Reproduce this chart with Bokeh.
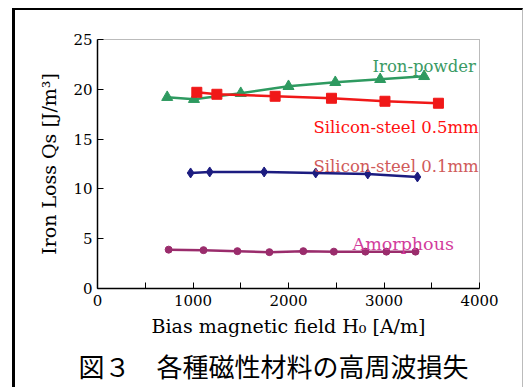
from bokeh.plotting import figure
from bokeh.models import Range1d, FixedTicker, Label, Title
from bokeh.embed import file_html
from bokeh.resources import INLINE

# ---- data ----
iron_x = [730, 1010, 1500, 2000, 2490, 2960, 3420]
iron_y = [19.2, 19.0, 19.6, 20.3, 20.7, 21.0, 21.3]
si05_x = [1040, 1250, 1860, 2450, 3010, 3570]
si05_y = [19.7, 19.5, 19.3, 19.1, 18.8, 18.6]
si01_x = [975, 1175, 1745, 2285, 2830, 3350]
si01_y = [11.6, 11.7, 11.7, 11.6, 11.5, 11.2]
amor_x = [745, 1110, 1465, 1800, 2155, 2475, 2805, 3025, 3330]
amor_y = [3.9, 3.85, 3.75, 3.65, 3.75, 3.7, 3.7, 3.7, 3.7]
x_ticks = [0, 1000, 2000, 3000, 4000]
x_minor = [500, 1500, 2500, 3500]
y_ticks = [0, 5, 10, 15, 20, 25]

GREEN = "#2e9a60"
RED = "#f01818"
NAVY = "#1c1c80"
PURPLE = "#9a2c6c"
SERIF = "DejaVu Serif"

W, H = 511, 379
OX, OY = 15, 10          # page position of the canvas' top-left corner
FL, FB = 97, 288         # frame left / bottom (page px)

p = figure(width=W, height=H, x_range=Range1d(0, 4000), y_range=Range1d(0, 25),
           output_backend="svg", toolbar_location=None,
           min_border_left=FL - OX, min_border_right=OX + W - 479,
           min_border_top=39 - OY, min_border_bottom=OY + H - FB)
p.styles = {"margin-left": "12px", "margin-top": "8px", "border-left": "3px solid black",
            "border-top": "2px solid black", "border-right": "1px solid #bbbbbb"}
p.background_fill_color = "white"
p.border_fill_color = "white"
p.grid.visible = False
p.outline_line_color = "#777777"
p.outline_line_width = 1
p.outline_line_dash = "1 1"

for ax in (p.xaxis[0], p.yaxis[0]):
    ax.axis_line_color = "black"
    ax.axis_line_width = 1.5
    ax.major_tick_in = 6
    ax.major_tick_out = 0
    ax.minor_tick_in = 6
    ax.minor_tick_out = 0
    ax.major_tick_line_color = "black"
    ax.minor_tick_line_color = "black"
    ax.major_label_text_font = SERIF
    ax.major_label_text_font_size = "15px"
    ax.major_label_text_color = "black"
    ax.axis_label_text_font = SERIF
    ax.axis_label_text_font_size = "19px"
    ax.axis_label_text_font_style = "normal"
    ax.axis_label_text_color = "black"
p.xaxis[0].ticker = FixedTicker(ticks=x_ticks, minor_ticks=x_minor)
p.yaxis[0].ticker = FixedTicker(ticks=y_ticks, minor_ticks=[])
p.xaxis[0].major_label_standoff = 6
p.yaxis[0].major_label_standoff = 5
p.xaxis[0].axis_label = "Bias magnetic field H\u2080 [A/m]"
p.xaxis[0].axis_label_standoff = 6
p.yaxis[0].axis_label = "Iron Loss Qs [J/m\u00b3]"
p.yaxis[0].axis_label_standoff = 10

# ---- series ----
p.line(iron_x, iron_y, line_color=GREEN, line_width=2.5)
p.scatter(iron_x, iron_y, marker="triangle", size=11, fill_color=GREEN, line_color=GREEN)
p.line(si05_x, si05_y, line_color=RED, line_width=2.5)
p.scatter(si05_x, si05_y, marker="square", size=10, fill_color=RED, line_color=RED)
p.line(si01_x, si01_y, line_color=NAVY, line_width=2.5)
p.scatter(si01_x, si01_y, marker="diamond", size=10, fill_color=NAVY, line_color=NAVY)
p.line(amor_x, amor_y, line_color=PURPLE, line_width=2.5)
p.scatter(amor_x, amor_y, marker="circle", size=7, fill_color=PURPLE, line_color=PURPLE)

def lab(text, px, py, color, size="16.5px"):
    # screen units are measured from the frame's bottom-left corner
    p.add_layout(Label(x=px - FL, y=FB - py, x_units="screen", y_units="screen",
                       text=text, text_color=color, text_font=SERIF,
                       text_font_size=size, text_align="left", text_baseline="alphabetic"))

# series labels (kept inside the frame)
lab("Iron-powder", 372, 66, "#3a9a64")
lab("Silicon-steel 0.5mm", 313, 127, "#ff1010")
lab("Silicon-steel 0.1mm", 313, 166, "#d05a5a")
lab("Amorphous", 352, 243, "#d23c9c", size="17.5px")

# caption below the axis
cap = Title(text="図３　各種磁性材料の高周波損失", text_font="Noto Sans CJK JP",
            text_font_size="26px", text_font_style="normal", text_color="black",
            align="left", offset=78 - FL, standoff=10)
p.add_layout(cap, "below")

open("out.html", "w").write(file_html(p, INLINE))
